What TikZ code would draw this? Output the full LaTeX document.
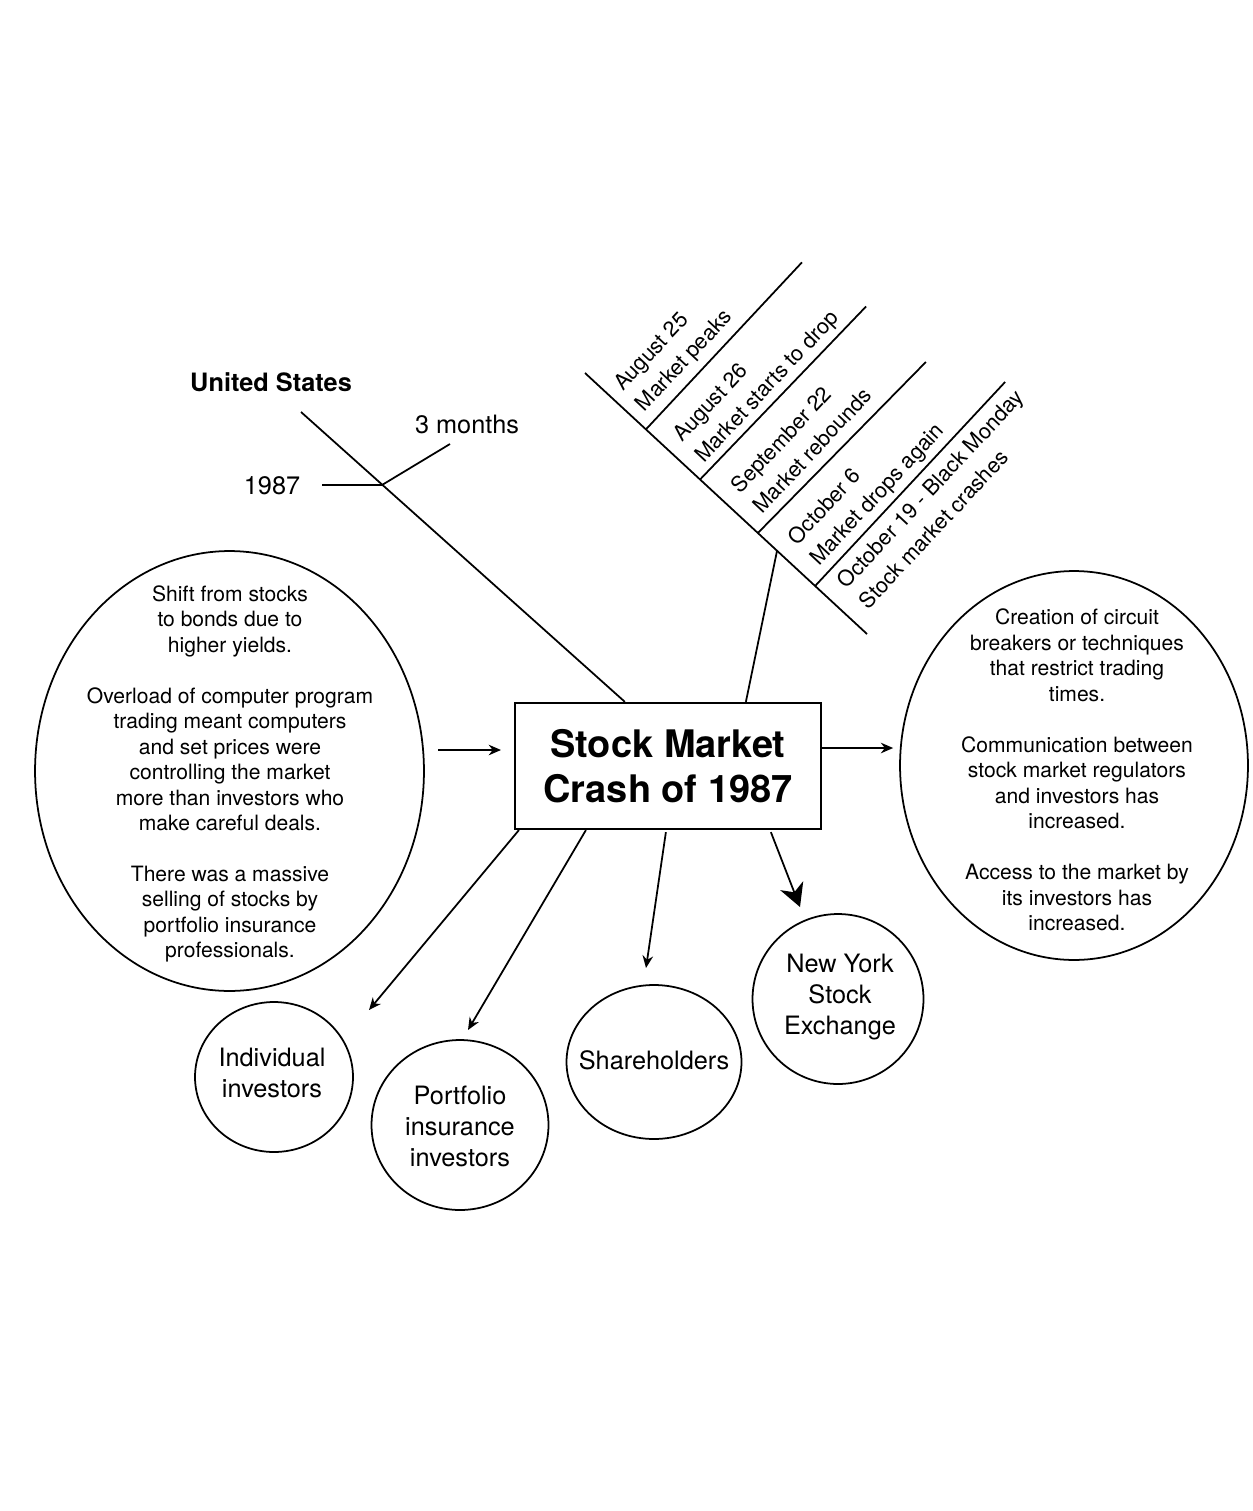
\documentclass[tikz,border=0pt]{standalone}
\usepackage{fontspec}
\setmainfont{TeX Gyre Heros}
\usetikzlibrary{arrows.meta,shapes.geometric,calc}

\tikzset{
  line/.style={line width=1pt},
  arr/.style={line width=1pt,-{Stealth[length=7pt,width=6pt]}},
  bigarr/.style={line width=1pt,-{Stealth[length=13pt,width=14pt,inset=4pt]}},
  bubble/.style={ellipse,draw,line width=1pt,inner sep=0pt},
  smalltext/.style={align=center,inner sep=0pt,font=\fontsize{12}{14.5}\selectfont},
  bigtext/.style={align=center,inner sep=0pt,font=\fontsize{14.4}{17.6}\selectfont},
  event/.style={rotate=47,align=left,inner sep=0pt,font=\fontsize{12.3}{17}\selectfont},
}

\begin{document}
\begin{tikzpicture}[x=0.02cm,y=-0.02cm]
\useasboundingbox (0,0) rectangle (1252,1511);

% The central box
\node[draw,line width=1.3pt,minimum width=6.12cm,minimum height=2.52cm,align=center,
      font=\fontsize{21.6}{26}\selectfont\bfseries] (crash) at (668,766) {Stock Market\\Crash of 1987};

% Causes and effects
\node[bubble,minimum width=7.78cm,minimum height=8.8cm] (causes) at (229.5,771) {};
\node[smalltext] (causes-t) at (230,774) {Shift from stocks\\to bonds due to\\higher yields.\\[14.5pt]
  Overload of computer program\\trading meant computers\\and set prices were\\controlling the market\\
  more than investors who\\make careful deals.\\[14.5pt]
  There was a massive\\selling of stocks by\\portfolio insurance\\professionals.};

\node[bubble,minimum width=6.96cm,minimum height=7.78cm] (effects) at (1074,765.5) {};
\node[smalltext] (effects-t) at (1077,770) {Creation of circuit\\breakers or techniques\\that restrict trading\\times.\\[14.5pt]
  Communication between\\stock market regulators\\and investors has\\increased.\\[14.5pt]
  Access to the market by\\its investors has\\increased.};

% The people involved
\node[bubble,minimum width=3.16cm,minimum height=3cm] (indiv) at (274,1077) {};
\node[bigtext] (indiv-t) at (272,1073) {Individual\\investors};
\node[bubble,minimum width=3.54cm,minimum height=3.4cm] (portf) at (460,1125) {};
\node[bigtext] (portf-t) at (460,1126) {Portfolio\\insurance\\investors};
\node[bubble,minimum width=3.5cm,minimum height=3.08cm] (share) at (654,1062) {};
\node[bigtext] (share-t) at (654,1060) {Shareholders};
\node[bubble,minimum width=3.42cm,minimum height=3.4cm] (nyse) at (838,999) {};
\node[bigtext] (nyse-t) at (840,997) {New York\\Stock\\Exchange};

% Where and when
\node[font=\fontsize{14.4}{17.6}\selectfont\bfseries] (us) at (271,382) {United States};
\node[font=\fontsize{14.4}{17.6}\selectfont] (months) at (467,424) {3 months};
\node[font=\fontsize{14.4}{17.6}\selectfont] (year) at (272,486) {1987};

\coordinate (usA) at (301,412);
\coordinate (usJ) at (382,485);
\draw[line] (usA) -- ($(crash.north west)+(111,0)$);
\draw[line] (usJ) -- (322,485);
\draw[line] (usJ) -- (450,444);

% The timeline
\coordinate (spA) at (585,373);
\coordinate (spB) at (867,634);
\draw[line] (spA) -- (spB);
\foreach \t/\dx/\dy [count=\i] in {0.216/156/-167,0.408/166/-173,0.613/168/-171,0.816/190/-204}
{
  \draw[line] ($(spA)!\t!(spB)$) coordinate (rib\i) -- ++(\dx,\dy);
}
\draw[line] ($(spA)!0.681!(spB)$) -- ($(crash.north west)+(232,0)$);

\node[event] (ev1) at (674,351) {August 25\\Market peaks};
\node[event] (ev2) at (757,377) {August 26\\Market starts to drop};
\node[event] (ev3) at (801,440) {September 22\\Market rebounds};
\node[event] (ev4) at (867,485) {October 6\\Market drops again};
\node[event] (ev5) at (941,499) {October 19 - Black Monday\\Stock market crashes};

% The arrows
\coordinate (inA) at (438,750);
\coordinate (inB) at (501,750);
\coordinate (tipA) at (369,1010);
\coordinate (tipB) at (468,1030);
\coordinate (tipC) at (646,968);
\coordinate (tipD) at (800,907);

\draw[arr] (inA) -- (inB);
\draw[arr] ($(crash.east)+(0,-18)$) -- ($(effects.west)+(-6,-17.5)$);
\draw[arr] ($(crash.south west)+(5,0)$) -- (tipA);
\draw[arr] ($(crash.south west)+(72,0)$) -- (tipB);
\draw[arr] ($(crash.south west)+(152,2)$) -- (tipC);
\draw[bigarr] ($(crash.south west)+(257,2)$) -- (tipD);

\end{tikzpicture}
\end{document}
